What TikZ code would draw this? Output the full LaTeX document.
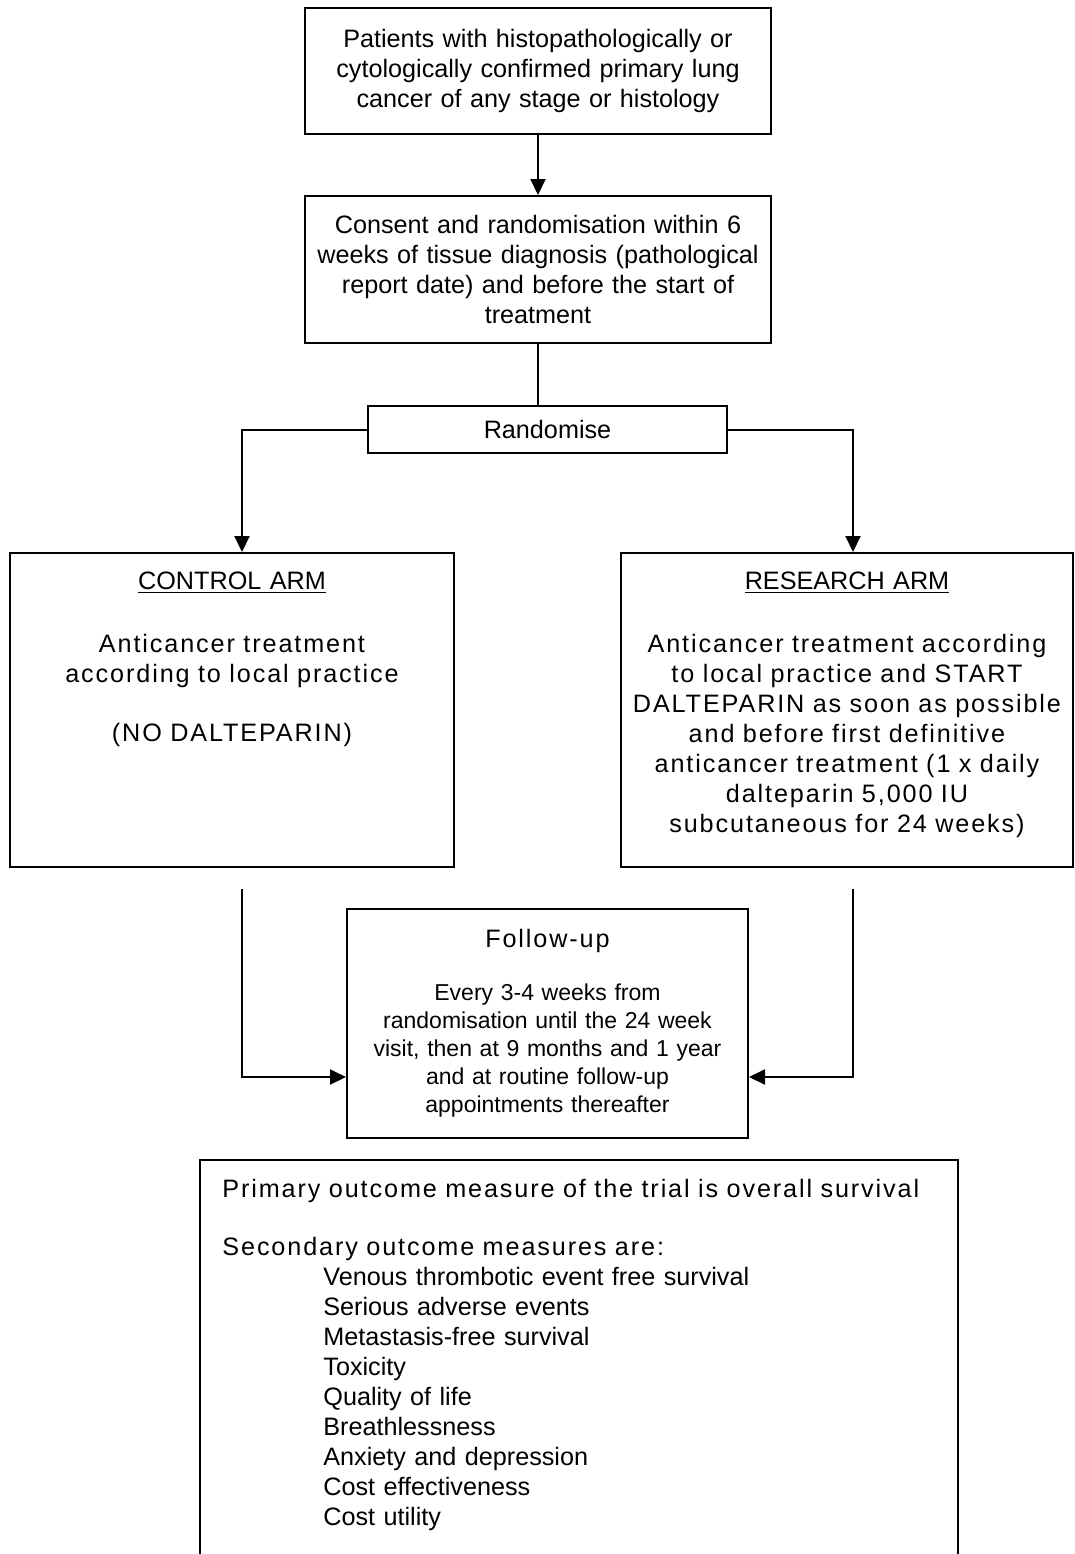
\documentclass[tikz,border=0pt]{standalone}
\usepackage{fontspec}
\setmainfont{Liberation Sans}
\newfontfamily\spacedfont[LetterSpace=7.5]{Liberation Sans}
\usepackage{tikz}
\usetikzlibrary{arrows.meta,positioning,calc}

\newcommand\bodyfont{\fontsize{12.6pt}{15pt}\selectfont}
\newcommand\smallbody{\fontsize{11.5pt}{14pt}\selectfont}
\newcommand\spaced{\spacedfont\fontsize{12.6pt}{15pt}\selectfont}

\tikzset{
  box/.style={draw, line width=1pt, inner sep=0pt, align=center, font=\bodyfont},
  txt/.style={inner sep=0pt, font=\bodyfont},
  link/.style={line width=1pt},
  flow/.style={line width=1pt, -{Triangle[length=8pt,width=7.5pt]}},
}

\begin{document}
\begin{tikzpicture}[x=0.5pt,y=-0.5pt]
        \useasboundingbox (0,0) rectangle (1075,1554);

        % boxes
        \node[box, minimum width=233pt, minimum height=63pt, text width=225pt] (patients) at (538,71)
          {Patients with histopathologically or\\cytologically confirmed primary lung\\cancer of any stage or histology};
        \node[box, minimum width=233pt, minimum height=73.5pt, text width=225pt] (consent) at (538,269.5)
          {Consent and randomisation within 6\\weeks of tissue diagnosis (pathological\\report date) and before the start of\\treatment};
        \node[box, minimum width=179.5pt, minimum height=23.5pt] (randomise) at (547.5,429.5) {Randomise};
        \node[box, minimum width=222pt, minimum height=157pt] (control) at (232,710) {};
        \node[box, minimum width=226pt, minimum height=157pt] (research) at (847,710) {};
        \node[box, minimum width=200.5pt, minimum height=114.5pt, text width=195pt, font=\smallbody] (followup) at (547.5,1023.5)
          {{\spaced Follow-up}\\[12.5pt]Every 3-4 weeks from\\randomisation until the 24 week\\visit, then at 9 months and 1 year\\and at routine follow-up\\appointments thereafter};

        % arm texts
        \node[txt, anchor=north, align=center, text width=215pt] (controltext) at (232,571)
          {\underline{CONTROL ARM}\\[16.5pt]{\spaced Anticancer treatment}\\{\spaced according to local practice}\\[14.5pt]{\spaced (NO DALTEPARIN)}};
        \node[txt, anchor=north, align=center, text width=220pt] (researchtext) at (847,571)
          {\underline{RESEARCH ARM}\\[16.5pt]{\spaced Anticancer treatment according}\\{\spaced to local practice and START}\\{\spaced DALTEPARIN as soon as possible}\\{\spaced and before first definitive}\\{\spaced anticancer treatment (1 x daily}\\{\spaced dalteparin 5,000 IU}\\{\spaced subcutaneous for 24 weeks)}};

        % outcome box, open at the foot of the page
        \coordinate (outbl) at (200,1570);
        \coordinate (outtl) at (200,1160);
        \coordinate (outtr) at (958,1160);
        \coordinate (outbr) at (958,1570);
        \draw[link] (outbl) -- (outtl) -- (outtr) -- (outbr);
        \node[txt, anchor=north west, align=left, text width=375pt] (outcomes) at (222,1179)
          {{\spaced Primary outcome measure of the trial is overall survival}\\[14pt]
           {\spaced Secondary outcome measures are:}\\
           \hspace*{50.5pt}Venous thrombotic event free survival\\
           \hspace*{50.5pt}Serious adverse events\\
           \hspace*{50.5pt}Metastasis-free survival\\
           \hspace*{50.5pt}Toxicity\\
           \hspace*{50.5pt}Quality of life\\
           \hspace*{50.5pt}Breathlessness\\
           \hspace*{50.5pt}Anxiety and depression\\
           \hspace*{50.5pt}Cost effectiveness\\
           \hspace*{50.5pt}Cost utility};

        % connectors
        \draw[flow] (patients) -- (consent);
        \draw[link] (consent) -- (consent.south |- randomise.north);
        \draw[flow] (randomise.west) -| ($(control.north)+(10,0)$);
        \draw[flow] (randomise.east) -| ($(research.north)+(6,0)$);
        \coordinate (lstart) at ($(control.south)+(10,21)$);
        \coordinate (rstart) at ($(research.south)+(6,21)$);
        \draw[flow] (lstart) |- ($(followup.west)+(0,53.5)$);
        \draw[flow] (rstart) |- ($(followup.east)+(0,53.5)$);
\end{tikzpicture}
\end{document}
